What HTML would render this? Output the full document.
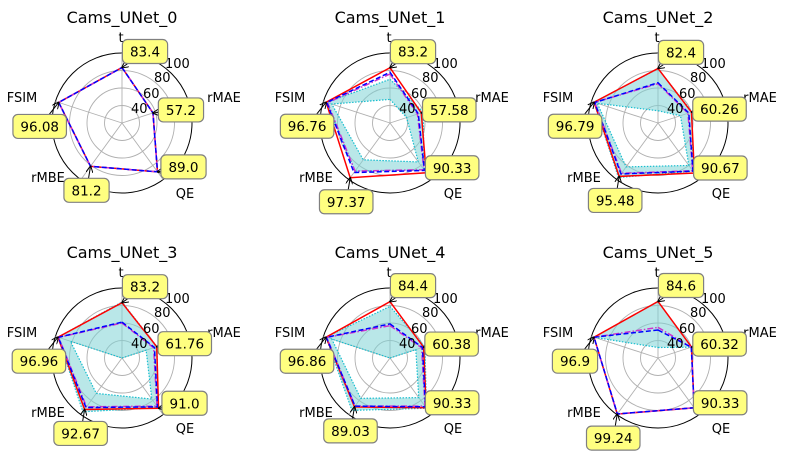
<!DOCTYPE html>
<html><head><meta charset="utf-8">
<style>
html,body{margin:0;padding:0;background:#fff;}
svg{display:block;font-family:"DejaVu Sans","Liberation Sans",sans-serif;}
</style></head>
<body>
<svg id="chart" width="785" height="460" viewBox="0 0 785 460" xmlns="http://www.w3.org/2000/svg">
<defs>
<marker id="arr" viewBox="0 0 10 10" refX="9" refY="5" markerWidth="7" markerHeight="7" orient="auto-start-reverse">
<path d="M0,0 L10,5 L0,10" fill="none" stroke="#000" stroke-width="1.4"/>
</marker>
</defs>
</svg>
<script>
const axesLabels = ["t","rMAE","QE","rMBE","FSIM"];
const titles = ["Cams_UNet_0","Cams_UNet_1","Cams_UNet_2","Cams_UNet_3","Cams_UNet_4","Cams_UNet_5"];
const tickValues = [40,60,80,100];
const redSeries = [
 [83.4,57.2,89.0,81.2,96.08],
 [83.2,57.58,90.33,97.37,96.76],
 [82.4,60.26,90.67,95.48,96.79],
 [83.2,61.76,91.0,92.67,96.96],
 [84.4,60.38,90.33,89.03,96.86],
 [84.6,60.32,90.33,99.24,96.9]];
const blueSeries = [
 [83.4,57.2,89.0,81.2,96.08],
 [78,54,87,90,96],
 [66,57,88,92,96],
 [61,59,89,90,96.5],
 [59,59,89,88,96.5],
 [52,60,90.3,99,96.9]];
const magentaSeries = [
 [83.4,57.2,89.0,81.2,96.08],
 [76,53,86,88,95],
 [65,56,87.5,91,96],
 [60,58,88,89,96],
 [57,58,88,88,96],
 [55,60,90.3,99,96.9]];
const cyanLow = [
 [83.4,57.2,89.0,81.2,96.08],
 [47,40,75,72,90],
 [34,47,80,82,93],
 [20,49,78,70,82],
 [20,51,76,77,90],
 [32,60,90,99,96.9]];
const cyanHigh = [
 [83.4,57.2,89.0,81.2,96.08],
 [70,60,86,88,96],
 [82,61,88,97,97],
 [84,62,90,96,97],
 [79,62,91,94,97],
 [84.6,60.32,90.33,99.24,96.9]];

const NS="http://www.w3.org/2000/svg";
const svg=document.getElementById('chart');
const centersX=[122,390,658], centersY=[123,358];
const R0=20, RMAX=100, RPIX=70;
function rScale(v){return (v-R0)/(RMAX-R0)*RPIX;}
function angle(i){return (90-72*i)*Math.PI/180;}
function pt(cx,cy,i,v){const r=rScale(v),a=angle(i);return [cx+r*Math.cos(a),cy-r*Math.sin(a)];}
function mk(tag,attrs,parent){const e=document.createElementNS(NS,tag);for(const k in attrs)e.setAttribute(k,attrs[k]);(parent||svg).appendChild(e);return e;}
function polyStr(cx,cy,vals){return vals.map((v,i)=>pt(cx,cy,i,v).map(n=>n.toFixed(2)).join(',')).join(' ');}
function pathStr(cx,cy,vals){return 'M'+vals.map((v,i)=>pt(cx,cy,i,v).map(n=>n.toFixed(2)).join(',')).join(' L')+' Z';}
function fmt(v){const r=Math.round(v*100)/100;return Number.isInteger(r)?r.toFixed(1):String(r);}

const labelOff=[[-1,-81],[102,-21],[63,75],[-74,59],[-100,-21]];
const boxOff=[[23,-16],[28,-3],[26,-5],[-4,24],[-19,24]];
const tickOff=[[9,-10],[21,-25],[32,-41],[43,-55]];

titles.forEach((title,p)=>{
  const cx=centersX[p%3], cy=centersY[Math.floor(p/3)];
  const g=mk('g',{});
  
  
  const t=mk('text',{x:cx,y:cy-100,'text-anchor':'middle','font-size':16,fill:'#000'},g);
  t.textContent=title;
  
  
  tickValues.forEach(v=>{
    const c=mk('circle',{cx:cx,cy:cy,r:rScale(v),fill:'none',stroke:v===100?'#000':'#b0b0b0','stroke-width':v===100?1:0.9},g);
    
    
  });
  axesLabels.forEach((lab,i)=>{
    const [x,y]=pt(cx,cy,i,100);
    const l=mk('line',{x1:cx,y1:cy,x2:x,y2:y,stroke:'#b0b0b0','stroke-width':0.9},g);
    
    
  });
  const band=mk('path',{d:pathStr(cx,cy,cyanHigh[p])+' '+pathStr(cx,cy,cyanLow[p]),fill:'#7fd3d6','fill-opacity':0.55,'fill-rule':'evenodd',stroke:'none'},g);
  
  
  [cyanLow[p],cyanHigh[p]].forEach(vals=>{
    const pl=mk('polygon',{points:polyStr(cx,cy,vals),fill:'none',stroke:'#17becf','stroke-width':1.2,'stroke-dasharray':'1.5,1.5'},g);
    
    
  });
  const red=mk('polygon',{points:polyStr(cx,cy,redSeries[p]),fill:'none',stroke:'#ff0000','stroke-width':1.5},g);
  
  
  const mag=mk('polygon',{points:polyStr(cx,cy,magentaSeries[p]),fill:'none',stroke:'#cc33cc','stroke-width':1.5,'stroke-dasharray':'6,2,1.5,2'},g);
  
  
  const blue=mk('polygon',{points:polyStr(cx,cy,blueSeries[p]),fill:'none',stroke:'#0000ff','stroke-width':1.5,'stroke-dasharray':'5,2.5'},g);
  
  
  tickValues.forEach((v,k)=>{
    const tx=mk('text',{x:cx+tickOff[k][0],y:cy+tickOff[k][1],'font-size':13,fill:'#000'},g);
    tx.textContent=String(v);
    
    
  });
  axesLabels.forEach((lab,i)=>{
    const tx=mk('text',{x:cx+labelOff[i][0],y:cy+labelOff[i][1],'text-anchor':'middle','font-size':13,fill:'#000'},g);
    tx.textContent=lab;
    
    
  });
  redSeries[p].forEach((v,i)=>{
    const [px,py]=pt(cx,cy,i,v);
    const bx=px+boxOff[i][0], by=py+boxOff[i][1];
    const s=fmt(v);
    const w=s.length*8.3+12, h=24;
    const ar=mk('line',{x1:bx,y1:by,x2:px,y2:py,stroke:'#000','stroke-width':1,'marker-end':'url(#arr)'},g);
    
    
    const rc=mk('rect',{x:bx-w/2,y:by-h/2,width:w,height:h,rx:5,ry:5,fill:'#ffff80',stroke:'#808080','stroke-width':1.2},g);
    
    
    const tx=mk('text',{x:bx,y:by+5,'text-anchor':'middle','font-size':13.5,fill:'#000'},g);
    tx.textContent=s;
    
    
  });
});
</script>
</body></html>
